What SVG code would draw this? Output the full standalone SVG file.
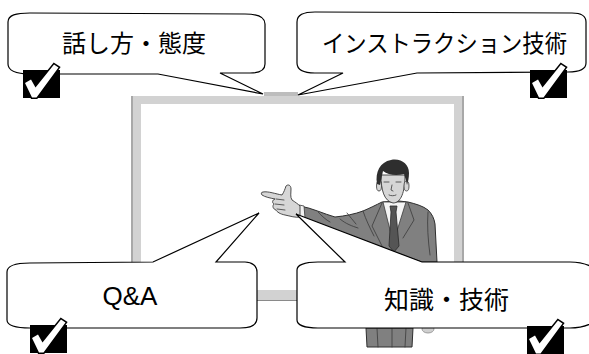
<svg xmlns="http://www.w3.org/2000/svg" width="589" height="354" viewBox="0 0 589 354">
  <style>
    .callout { fill: #ffffff; stroke: #000000; stroke-width: 1.2; stroke-linejoin: miter; }
    .jp { font-family: "Noto Sans CJK JP", "Liberation Sans", sans-serif; font-size: 24px; fill: #000; }
    .lat { font-family: "Liberation Sans", Arial, sans-serif; font-size: 26px; fill: #000; }
    .suit { fill: #808080; stroke: #2e2e2e; stroke-width: 1; stroke-linejoin: round; }
    .crease { fill: none; stroke: #3a3a3a; stroke-width: 0.8; stroke-linecap: round; }
    .skin { fill: #d6d6d6; stroke: #3a3a3a; stroke-width: 0.9; stroke-linejoin: round; }
  </style>
  <defs>
    <!-- black tick box: 37 x 28, tick tip reaching above the box -->
    <g id="tick">
      <rect x="0" y="0" width="37" height="28" fill="#000"/>
      <polygon points="2,13 8,9.5 12.5,17.5 31,-5.5 35.5,-2.5 13.5,27.5 9,27.5" fill="#fff" stroke="#000" stroke-width="3" stroke-linejoin="miter" paint-order="stroke"/>
    </g>
  </defs>

  <rect width="589" height="354" fill="#ffffff"/>

  <!-- whiteboard -->
  <g id="whiteboard">
    <rect x="264" y="92" width="34" height="5" fill="#bdbdbd"/>
    <rect x="131" y="96" width="333" height="205" fill="#d2d2d2"/>
    <rect x="141" y="104" width="313" height="186" fill="#ffffff"/>
    <line x1="132" y1="96" x2="132" y2="301" stroke="#9a9a9a" stroke-width="1.5"/>
    <line x1="463" y1="96" x2="463" y2="301" stroke="#9a9a9a" stroke-width="1.5"/>
    <line x1="131" y1="300.5" x2="464" y2="300.5" stroke="#8a8a8a" stroke-width="1.2"/>
  </g>

  <!-- presenter -->
  <g id="presenter">
    <!-- legs below the lower balloon -->
    <polygon class="suit" points="366,328 413,328 412,347 367,347"/>
    <path class="crease" d="M377,328 L378,347 M392,328 L392,347 M406,328 L405,347"/>
    <ellipse cx="428" cy="329" rx="6" ry="4" fill="#cfcfcf" stroke="#8a8a8a" stroke-width="0.8"/>

    <!-- jacket and pointing arm -->
    <path class="suit" d="M300,206 C312,208 324,214 335,217 C345,216 355,214 363,211 C370,208 376,205 382,202 L399,201 L408,202 C416,204 423,206 428,210 C432,214 434,218 435,224 L437,262 L422,262 L300,218 Z"/>
    <path class="crease" d="M318,212 C322,216 326,220 330,222 M340,219 C346,224 352,226 358,228 M363,211 C366,220 370,228 374,236 M382,203 L372,226 L384,250 M408,203 L414,220 L403,238 M428,212 C427,225 428,240 430,255 M347,213 C350,217 353,220 356,224"/>
    <!-- shirt and tie -->
    <polygon points="383,202 406,202 396,234 391,234" fill="#f4f4f4" stroke="#3a3a3a" stroke-width="0.8"/>
    <polygon points="390,206 397,206 396,212 399,246 394,252 389,246 391,212" fill="#555555" stroke="#2a2a2a" stroke-width="0.8"/>
    <!-- cuff and hand -->
    <polygon points="299,205 304,206 305,218 299,217" fill="#f2f2f2" stroke="#3a3a3a" stroke-width="0.8"/>
    <path class="skin" d="M263,192 C268,191 276,194 282,195 C284,192 285,189 286,186 C288,184 291,185 291,189 C291,193 290,197 292,200 C295,202 298,204 300,206 L300,217 C296,218 290,216 285,215 C280,214 277,212 276,210 C273,209 272,206 274,204 C272,203 272,200 275,199 C270,198 265,197 262,195 C261,194 261,192 263,192 Z"/>
    <path class="crease" d="M276,199 L284,200 M275,204 L284,205 M277,209 L285,210"/>
    <!-- head -->
    <path class="skin" d="M381,175 C381,190 384,201 393,203 C401,203 405,192 405,175 Z"/>
    <ellipse cx="379" cy="186" rx="2.5" ry="5" fill="#d6d6d6" stroke="#3a3a3a" stroke-width="0.8"/>
    <ellipse cx="406.5" cy="186" rx="2.5" ry="5" fill="#d6d6d6" stroke="#3a3a3a" stroke-width="0.8"/>
    <path d="M377,184 C375,172 380,162 391,160 C401,158 409,164 409,173 C409,178 408,182 407,185 C406,180 405,177 404,174 C396,176 388,175 383,171 C382,176 381,180 380,185 Z" fill="#2e2e2e"/>
    <path class="crease" d="M384,182 L389,182 M396,182 L401,182 M392,185 L391,190 L393,191 M389,195 C391,196 394,196 396,195"/>
  </g>

  <!-- balloons -->
  <g id="callout-speech">
    <path class="callout" d="M8,22 C8,15 16,13 30,13 L245,14 C258,14 265,17 265,24 L265,64 C265,70 260,73 250,73 L220,73 L263,94 L158,74 L30,74 C15,74 8,70 8,64 Z"/>
    <text class="jp" x="134" y="52" text-anchor="middle">話し方・態度</text>
    <use href="#tick" x="23" y="70"/>
  </g>

  <g id="callout-instruction">
    <path class="callout" d="M297,22 C297,15 303,12 315,12 L572,13 C581,13 586,16 586,22 L586,63 C586,69 580,72 568,72 L417,73 L298,95 L343,73 L315,73 C303,73 297,70 297,63 Z"/>
    <text class="jp" x="444.5" y="52" text-anchor="middle" textLength="245" lengthAdjust="spacingAndGlyphs">インストラクション技術</text>
    <use href="#tick" x="530" y="70"/>
  </g>

  <g id="callout-qa">
    <path class="callout" d="M7,272 C7,266 15,263 30,263 L153,262 L259,213 L216,262 L245,262 C252,262 257,266 257,272 L257,318 C257,325 250,328 240,328 L30,328 C15,328 7,325 7,320 Z"/>
    <text class="lat" x="130" y="305" text-anchor="middle">Q&amp;A</text>
    <use href="#tick" x="30" y="325"/>
  </g>

  <g id="callout-knowledge">
    <path class="callout" d="M297,270 C297,265 305,262 318,262 L345,262 L296,214 L422,262 L570,262 C582,262 589,265 594,268 L594,322 C589,325 582,328 570,328 L318,328 C305,328 297,325 297,320 Z"/>
    <text class="jp" x="446.5" y="309" text-anchor="middle" style="font-size:25px">知識・技術</text>
    <use href="#tick" x="527" y="326"/>
  </g>
</svg>
